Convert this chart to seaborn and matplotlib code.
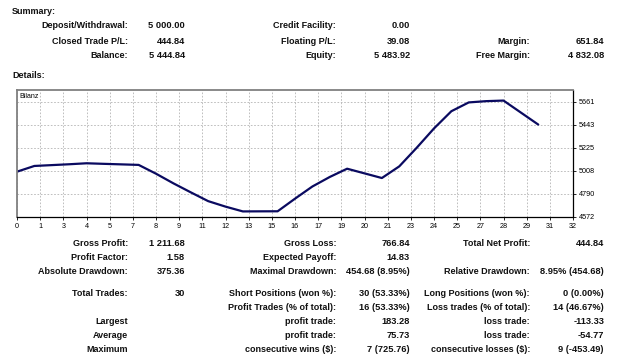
import numpy as np
import pandas as pd
import matplotlib
matplotlib.use("Agg")
import matplotlib.pyplot as plt
import seaborn as sns

# balance after each closed trade
trade_no = list(range(31))
balance = [5000.00, 5054.0, 5062.0, 5070.0, 5079.32, 5074.0, 5069.0, 5064.0,
           4981.0, 4890.0, 4805.0, 4722.0, 4670.0, 4624.64, 4625.5, 4626.0,
           4745.0, 4860.0, 4950.0, 5028.0, 4984.0, 4940.0, 5050.0, 5225.0,
           5408.28, 5571.0, 5654.0, 5666.0, 5671.5, 5558.17, 5444.84]

x_tick_labels = [0, 1, 3, 4, 5, 7, 8, 9, 11, 12, 13, 15, 16, 17, 19, 20, 21,
                 23, 24, 25, 27, 28, 29, 31, 32]
y_ticks = [4572, 4790, 5008, 5225, 5443, 5661]

summary_rows = [
    ["Deposit/Withdrawal:", "5 000.00", "Credit Facility:", "0.00", "", ""],
    ["Closed Trade P/L:", "444.84", "Floating P/L:", "39.08", "Margin:", "651.84"],
    ["Balance:", "5 444.84", "Equity:", "5 483.92", "Free Margin:", "4 832.08"],
]
detail_rows = [
    ["Gross Profit:", "1 211.68", "Gross Loss:", "766.84", "Total Net Profit:", "444.84"],
    ["Profit Factor:", "1.58", "Expected Payoff:", "14.83", "", ""],
    ["Absolute Drawdown:", "375.36", "Maximal Drawdown:", "454.68 (8.95%)",
     "Relative Drawdown:", "8.95% (454.68)"],
    ["Total Trades:", "30", "Short Positions (won %):", "30 (53.33%)",
     "Long Positions (won %):", "0 (0.00%)"],
    ["", "", "Profit Trades (% of total):", "16 (53.33%)",
     "Loss trades (% of total):", "14 (46.67%)"],
    ["Largest", "", "profit trade:", "183.28", "loss trade:", "-113.33"],
    ["Average", "", "profit trade:", "75.73", "loss trade:", "-54.77"],
    ["Maximum", "", "consecutive wins ($):", "7 (725.76)",
     "consecutive losses ($):", "9 (-453.49)"],
]

sns.set_style("white")
plt.rcParams['font.family'] = ['Liberation Sans', 'DejaVu Sans']

W, H = 625, 359
fig = plt.figure(figsize=(W / 100, H / 100), dpi=100)
fig.patch.set_facecolor("white")

def px(x, y):
    return x / W, 1 - y / H

txt = "#111111"
fig.text(*px(12, 12), "Summary:", ha="left", va="center", fontsize=6.5,
         fontweight="bold", color=txt)
fig.text(*px(12, 76), "Details:", ha="left", va="center", fontsize=6.5,
         fontweight="bold", color=txt)

label_x = [128, 336, 530]
value_x = [185, 410, 604]

def put_rows(rows, ys):
    for row, y in zip(rows, ys):
        for c in range(3):
            lab, val = row[2 * c], row[2 * c + 1]
            if lab:
                fig.text(*px(label_x[c], y), lab, ha="right", va="center",
                         fontsize=6.5, fontweight="bold", color=txt)
            if val:
                fig.text(*px(value_x[c], y), val, ha="right", va="center",
                         fontsize=6.7, fontweight="bold", color=txt)

put_rows(summary_rows, [26, 41, 56])
put_rows(detail_rows, [243, 258, 272, 293, 307, 321, 335, 349])

# balance chart
ax = fig.add_axes([17 / W, 1 - 217 / H, (573 - 17) / W, (217 - 89.5) / H])
df = pd.DataFrame({"trade": trade_no, "balance": balance})
sns.lineplot(data=df, x="trade", y="balance", ax=ax, color="#0a0a60",
             linewidth=1.6)
ax.set_xlim(0, 32)
ax.set_ylim(4572, 5776)
ax.set_xticks(np.linspace(0, 32, len(x_tick_labels)))
ax.set_xticklabels([str(v) for v in x_tick_labels])
ax.set_yticks(y_ticks)
ax.set_yticklabels([str(v) for v in y_ticks])
ax.yaxis.tick_right()
ax.tick_params(axis="both", labelsize=5.2, length=2.5, width=0.6,
               colors="black", pad=1.5, direction="out")
ax.tick_params(axis="y", left=False, right=True)
ax.tick_params(axis="x", bottom=True)
ax.set_xlabel("")
ax.set_ylabel("")
ax.grid(True, color="#b4b4b4", linestyle=(0, (2, 2)), linewidth=0.6)
for side in ["top", "left"]:
    ax.spines[side].set_color("#808080")
    ax.spines[side].set_linewidth(1.3)
for side in ["bottom", "right"]:
    ax.spines[side].set_color("black")
    ax.spines[side].set_linewidth(0.9)
ax.text(0.004, 0.97, "Bilanz", transform=ax.transAxes, ha="left", va="top",
        fontsize=5.0, color="black")

fig.savefig("out.png", dpi=100, facecolor="white")
